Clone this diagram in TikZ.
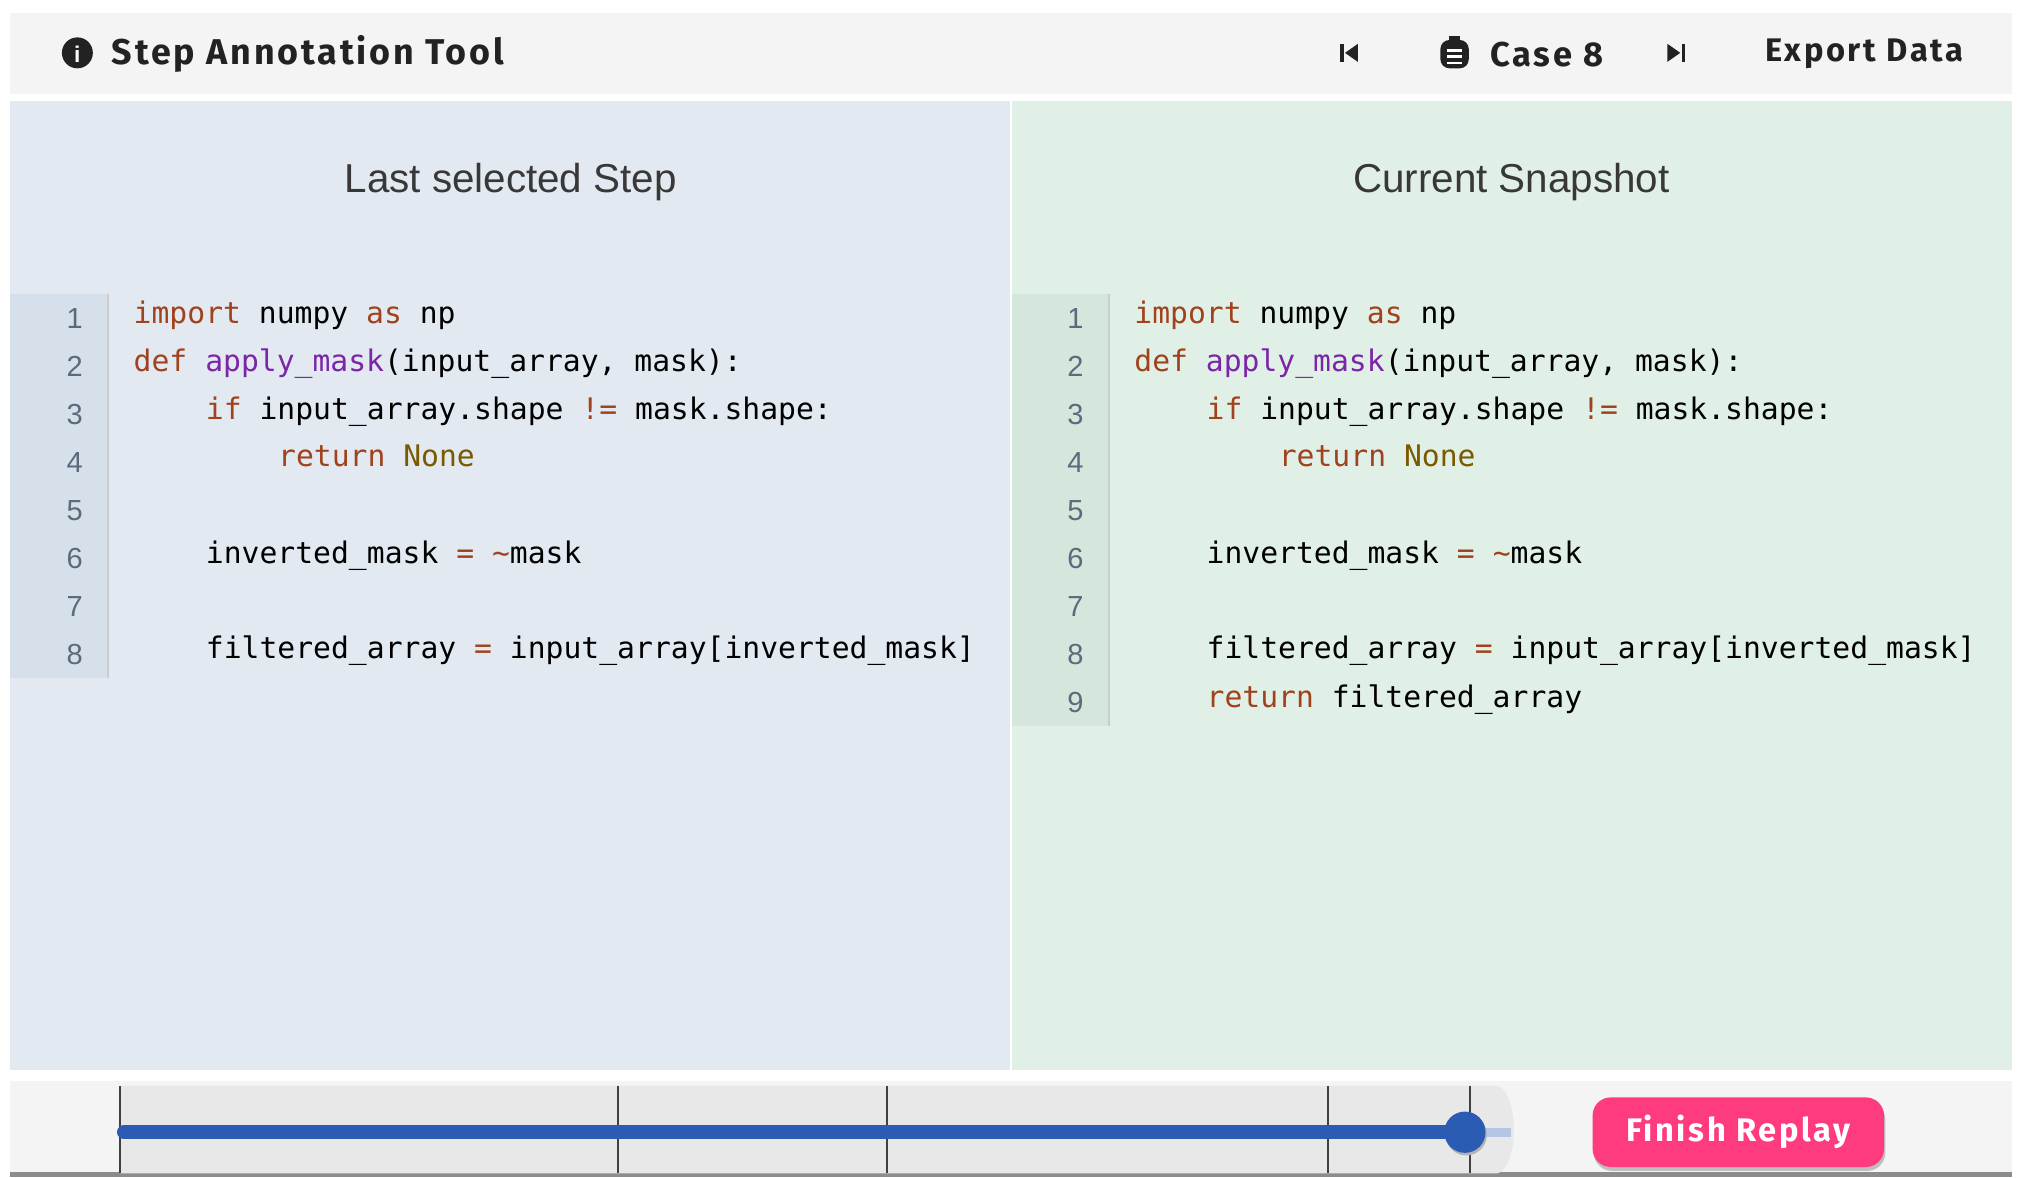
\documentclass[tikz,border=0pt]{standalone}
\usepackage{fontspec}
\setmainfont{Liberation Sans}
\newfontfamily\uifont[LetterSpace=8]{Fira Sans}
\newfontfamily\codefont{DejaVu Sans Mono}
\usetikzlibrary{positioning}
\definecolor{barbg}{HTML}{F4F4F4}
\definecolor{leftbg}{HTML}{E2E9F1}
\definecolor{rightbg}{HTML}{E1F0E6}
\definecolor{gutterL}{HTML}{D6E0EA}
\definecolor{gutterR}{HTML}{D5E6DD}
\definecolor{kw}{HTML}{A0421D}
\definecolor{fn}{HTML}{7B25A8}
\definecolor{nonec}{HTML}{7A5A00}
\definecolor{lnum}{HTML}{5B6B7B}
\definecolor{slider}{HTML}{2C5BB3}
\definecolor{track}{HTML}{E8E8E8}
\definecolor{pinkbtn}{HTML}{FF3B7F}
\definecolor{ink}{HTML}{222222}
\newcommand{\kw}[1]{\textcolor{kw}{#1}}
% code block of one panel: #1 prefix, #2 x of gutter
\newcommand{\codepanel}[2]{%
  \node[code] (#1c1) at (#2+95,251) {\kw{import} numpy \kw{as} np};
  \node[code] (#1c2) at (#2+95,288) {\kw{def} \textcolor{fn}{apply\_mask}(input\_array, mask):};
  \node[code] (#1c3) at (#2+151,325) {\kw{if} input\_array.shape \kw{!=} mask.shape:};
  \node[code] (#1c4) at (#2+207,362) {\kw{return} \textcolor{nonec}{None}};
  \node[code] (#1c6) at (#2+151,437) {inverted\_mask \kw{=} \kw{\textasciitilde}mask};
  \node[code] (#1c8) at (#2+151,511) {filtered\_array \kw{=} input\_array[inverted\_mask]};
}
\begin{document}
\begin{tikzpicture}[x=0.01cm,y=-0.01cm,
  code/.style={anchor=base west,inner sep=0pt,font=\codefont\fontsize{6.55pt}{8pt}\selectfont},
  lineno/.style={anchor=base,inner sep=0pt,text=lnum,font=\fontsize{6.4pt}{8pt}\selectfont},
  title/.style={inner sep=0pt,text=ink!90,font=\fontsize{8.9pt}{10pt}\selectfont},
  uitext/.style={anchor=west,inner sep=0pt,text=ink,font=\uifont\bfseries\fontsize{7.6pt}{9pt}\selectfont},
  tick/.style={black!75,line width=0.5pt}]
\useasboundingbox (0,0) rectangle (1568,913);
\fill[white] (0,0) rectangle (1568,913);

% top bar
\fill[barbg] (8,10) rectangle (1560,73);
\fill[ink] (60,41) circle [radius=12];
\node[inner sep=0pt,text=white,font=\bfseries\fontsize{5pt}{6pt}\selectfont] (info) at (60,42) {i};
\node[uitext,font=\uifont\bfseries\fontsize{7.9pt}{9pt}\selectfont] (apptitle) at (86,42) {Step Annotation Tool};
% skip back / forward
\fill[ink] (1039,34) rectangle (1042,48);
\fill[ink] (1053,34) -- (1053,48) -- (1043,41) -- cycle;
\fill[ink] (1293,34) -- (1293,48) -- (1303,41) -- cycle;
\fill[ink] (1304,34) rectangle (1307,48);
% clipboard
\fill[ink,rounded corners=2] (1117,31) rectangle (1139,53);
\fill[ink] (1124,28) rectangle (1132,33);
\foreach \yy in {38,43,48} \fill[white] (1122,\yy) rectangle (1134,\yy+2);
\node[uitext] (case) at (1155,42) {Case 8};
\node[uitext,font=\uifont\bfseries\fontsize{7.2pt}{9pt}\selectfont] (export) at (1368,42) {Export Data};

% panels
\fill[leftbg] (8,78) rectangle (783,830);
\fill[rightbg] (785,78) rectangle (1560,830);
\node[title] (lefttitle) at (396,141) {Last selected Step};
\node[title] (righttitle) at (1172,141) {Current Snapshot};

% gutters
\fill[gutterL] (8,228) rectangle (84,526);
\draw[black!20] (84,228) -- (84,526);
\fill[gutterR] (785,228) rectangle (860,563);
\draw[black!20] (860,228) -- (860,563);
\foreach \n in {1,...,8} \node[lineno] (ln\n) at (58,{247+37.2*(\n-1)+8}) {\n};
\foreach \n in {1,...,9} \node[lineno] (rn\n) at (834,{247+37.2*(\n-1)+8}) {\n};

% code
\codepanel{L}{8}
\codepanel{R}{784}
\node[code] (Rc9) at (935,549) {\kw{return} filtered\_array};

% bottom bar
\fill[barbg] (8,838) rectangle (1560,910);
\draw[black!45,line width=1.2pt] (8,911) -- (1560,911);
\fill[track] (93,842) -- (1160,842) arc[start angle=-90,end angle=90,x radius=14,y radius=34] -- (93,910) -- cycle;
\foreach \xx in {93,479,688,1030,1140} \draw[tick] (\xx,842) -- (\xx,910);
\draw[slider!35,line width=2pt] (1136,878) -- (1172,878);
\draw[slider,line width=3pt,line cap=round] (96,878) -- (1136,878);
\fill[black!30] (1137,880) circle [radius=16];
\fill[slider] (1136,878) circle [radius=16];

% button
\fill[black!25,rounded corners=4] (1236,854) rectangle (1462,908);
\fill[pinkbtn,rounded corners=4] (1235,851) rectangle (1461,905);
\node[inner sep=0pt,text=white,font=\uifont\bfseries\fontsize{7.2pt}{9pt}\selectfont] (finish) at (1348,878) {Finish Replay};
\end{tikzpicture}
\end{document}
